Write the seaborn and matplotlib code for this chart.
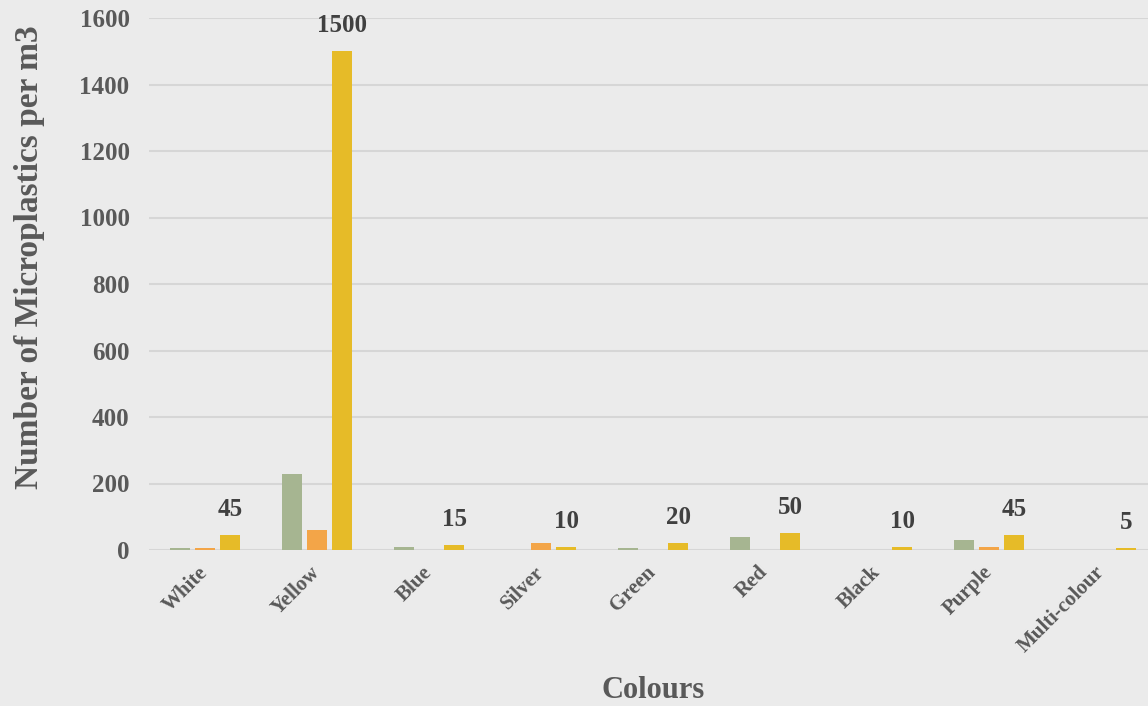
import matplotlib
matplotlib.use('Agg')
import matplotlib.pyplot as plt
import seaborn as sns
import pandas as pd

colours = ['White', 'Yellow', 'Blue', 'Silver', 'Green', 'Red', 'Black', 'Purple', 'Multi-colour']
series_names = ['Series1', 'Series2', 'Series3']
series1 = [5, 230, 10, 0, 5, 40, 0, 30, 0]
series2 = [5, 60, 0, 20, 0, 0, 0, 10, 0]
series3 = [45, 1500, 15, 10, 20, 50, 10, 45, 5]
bar_colors = ['#a6b591', '#f3a548', '#e6bb28']

rows = []
for name, vals in zip(series_names, [series1, series2, series3]):
    for c, v in zip(colours, vals):
        rows.append({'Colour': c, 'Series': name, 'Value': v})
df = pd.DataFrame(rows)

sns.set_theme(style='white')
plt.rcParams['font.family'] = ['Liberation Serif', 'DejaVu Serif']
plt.rcParams['font.weight'] = 'bold'

fig = plt.figure(figsize=(11.48, 7.06), dpi=100, facecolor='#ebebeb')
ax = fig.add_axes([149 / 1148, 156 / 706, 1008 / 1148, 532 / 706])
ax.set_facecolor('none')

sns.barplot(data=df, x='Colour', y='Value', hue='Series', palette=bar_colors,
            width=0.67, gap=0.22, saturation=1, legend=False, ax=ax,
            linewidth=0, zorder=3)

ax.set_xlim(-0.5, len(colours) - 0.5)
ax.set_ylim(0, 1600)
ax.set_yticks(range(0, 1601, 200))
ax.yaxis.grid(True, color='#d6d6d6', linewidth=1.5, zorder=0)
ax.set_axisbelow(True)
for s in ax.spines.values():
    s.set_visible(False)
ax.tick_params(axis='y', length=0, pad=14, labelsize=18, labelcolor='#595959')
ax.tick_params(axis='x', length=0, pad=14, labelsize=15, labelcolor='#595959')
for lbl in ax.get_yticklabels():
    lbl.set_fontweight('bold')
for lbl in ax.get_xticklabels():
    lbl.set_rotation(45)
    lbl.set_ha('right')
    lbl.set_va('center')
    lbl.set_rotation_mode('anchor')
    lbl.set_fontweight('bold')

ax.bar_label(ax.containers[2], labels=[str(v) for v in series3], padding=10,
             fontsize=18, fontweight='bold', color='#404040', clip_on=False)

ax.set_xlabel('Colours', fontsize=22, fontweight='bold', color='#595959')
ax.xaxis.set_label_coords(504 / 1008, -126 / 532)
ax.set_ylabel('Number of Microplastics per m3', fontsize=24, fontweight='bold',
              color='#595959')
ax.yaxis.set_label_coords(-104 / 1008, 293 / 532)

fig.savefig('out.png', dpi=100, facecolor=fig.get_facecolor())
